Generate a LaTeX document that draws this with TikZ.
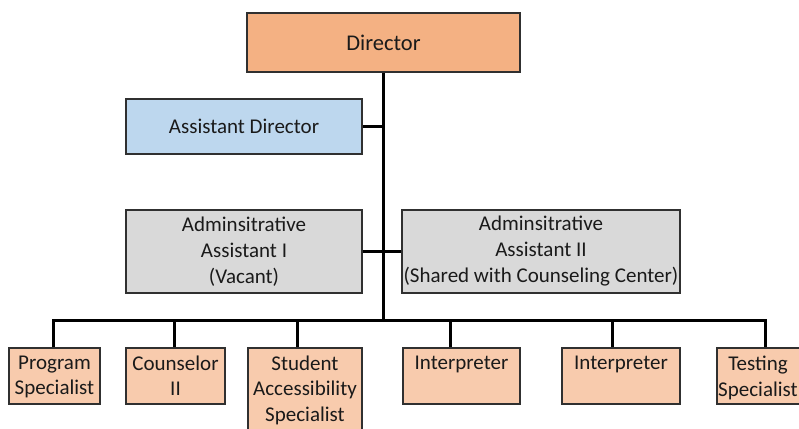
\documentclass[tikz,border=0pt]{standalone}
\usepackage{fontspec}
\setmainfont{Carlito}
\definecolor{dirfill}{HTML}{F4B183}
\definecolor{stafffill}{HTML}{F8CBAD}
\definecolor{adfill}{HTML}{BDD7EE}
\definecolor{admfill}{HTML}{D9D9D9}
\definecolor{boxline}{HTML}{303030}
\definecolor{txtcol}{HTML}{1A1A1A}
\begin{document}
\begin{tikzpicture}[x=1pt,y=-1pt,
  box/.style={draw=boxline, line width=1.3pt, inner sep=0pt, font=\fontsize{21}{26}\selectfont, align=center, text=txtcol},
  lbl/.style={font=\fontsize{21}{25.5}\selectfont, align=center, inner sep=0pt, text=txtcol, anchor=north},
  conn/.style={line width=3pt, black}]
\useasboundingbox (0,0) rectangle (799,428);

% top boxes
\node[box, fill=dirfill, minimum width=273pt, minimum height=59pt, font=\fontsize{22.5}{26}\selectfont] (dir) at (383.5,42.5) {Director};
\node[box, fill=adfill, minimum width=236pt, minimum height=55pt] (ad) at (244,126.5) {Assistant Director};
\node[box, fill=admfill, minimum width=236pt, minimum height=83pt] (a1) at (244,251.5) {Adminsitrative\\Assistant I\\(Vacant)};
\node[box, fill=admfill, minimum width=278pt, minimum height=83pt] (a2) at (541,251.5) {Adminsitrative\\Assistant II\\(Shared with Counseling Center)};

% bottom boxes
\node[box, fill=stafffill, minimum width=91pt, minimum height=56pt] (ps) at (54.5,376) {};
\node[box, fill=stafffill, minimum width=99pt, minimum height=56pt] (c2) at (175.5,376) {};
\node[box, fill=stafffill, minimum width=114pt, minimum height=87pt] (sas) at (305,391.5) {};
\node[box, fill=stafffill, minimum width=117pt, minimum height=56pt] (i1) at (461.5,376) {};
\node[box, fill=stafffill, minimum width=118pt, minimum height=56pt] (i2) at (621,376) {};
\node[box, fill=stafffill, minimum width=93pt, minimum height=56pt] (ts) at (763.5,376) {};

% bottom labels
\node[lbl] (tps) at ([yshift=-8pt]ps.north) {Program\\Specialist};
\node[lbl] (tc2) at ([yshift=-8pt]c2.north) {Counselor\\II};
\node[lbl] (tsas) at ([yshift=-8pt]sas.north) {Student\\Accessibility\\Specialist};
\node[lbl] (ti1) at ([yshift=-8pt]i1.north) {Interpreter};
\node[lbl] (ti2) at ([yshift=-8pt]i2.north) {Interpreter};
\node[lbl] (tts) at (758,356) {Testing\\Specialist};

% bus coordinates
\coordinate (bus) at (383.5,320);
\coordinate (d1) at (53,320);
\coordinate (d2) at (174,320);
\coordinate (d3) at (297,320);
\coordinate (d4) at (450,320);
\coordinate (d5) at (612,320);
\coordinate (d6) at (765,320);

% connectors
\draw[conn] (dir.south) -- (bus);
\draw[conn] (ad.east) -- (ad.east -| dir.south);
\draw[conn] (a1.east) -- (a2.west);
\draw[conn, line join=miter] (d1 |- ps.north) -- (d1) -- (d6) -- (d6 |- ts.north);
\draw[conn] (d2) -- (d2 |- c2.north);
\draw[conn] (d3) -- (d3 |- sas.north);
\draw[conn] (d4) -- (d4 |- i1.north);
\draw[conn] (d5) -- (d5 |- i2.north);
\end{tikzpicture}
\end{document}
